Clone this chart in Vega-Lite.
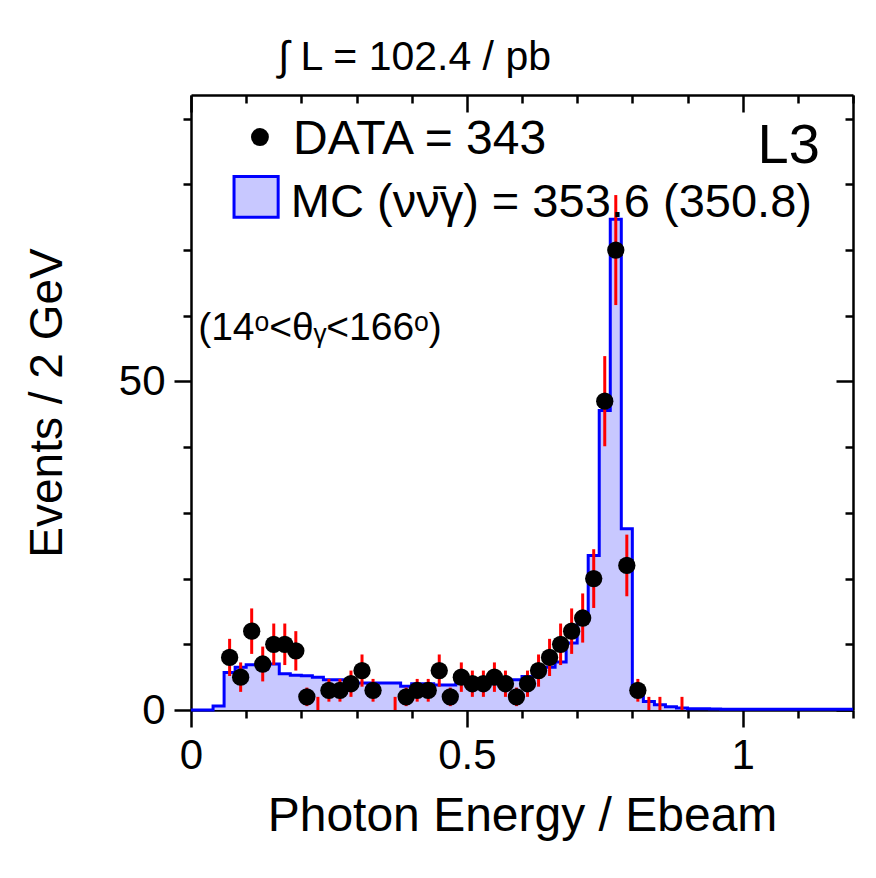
{
  "$schema": "https://vega.github.io/schema/vega-lite/v6.json",
  "width": 662,
  "height": 615,
  "autosize": "none",
  "padding": {"left": 191, "top": 95, "right": 23, "bottom": 168},
  "background": "white",
  "config": {"font": "Liberation Sans", "view": {"stroke": null}},
  "title": {"text": "∫ L = 102.4 / pb", "anchor": "start", "frame": "group", "dx": 87, "fontSize": 41, "fontWeight": "normal", "color": "black", "offset": 15, "font": "Liberation Sans"},
  "datasets": {
    "mc": [
      {"e": 0.00, "mc": 0}, {"e": 0.02, "mc": 0}, {"e": 0.04, "mc": 0.6}, {"e": 0.06, "mc": 5.7},
      {"e": 0.08, "mc": 6.5}, {"e": 0.10, "mc": 6.9}, {"e": 0.12, "mc": 6.4}, {"e": 0.14, "mc": 7.0},
      {"e": 0.16, "mc": 5.5}, {"e": 0.18, "mc": 5.3}, {"e": 0.20, "mc": 5.2}, {"e": 0.22, "mc": 5.0},
      {"e": 0.24, "mc": 4.6}, {"e": 0.26, "mc": 4.6}, {"e": 0.28, "mc": 3.7}, {"e": 0.30, "mc": 4.1},
      {"e": 0.32, "mc": 4.1}, {"e": 0.34, "mc": 4.1}, {"e": 0.36, "mc": 4.1}, {"e": 0.38, "mc": 3.6},
      {"e": 0.40, "mc": 4.0}, {"e": 0.42, "mc": 4.0}, {"e": 0.44, "mc": 3.8}, {"e": 0.46, "mc": 3.8},
      {"e": 0.48, "mc": 4.1}, {"e": 0.50, "mc": 4.1}, {"e": 0.52, "mc": 3.9}, {"e": 0.54, "mc": 4.0},
      {"e": 0.56, "mc": 4.3}, {"e": 0.58, "mc": 4.6}, {"e": 0.60, "mc": 5.1}, {"e": 0.62, "mc": 5.6},
      {"e": 0.64, "mc": 6.5}, {"e": 0.66, "mc": 7.3}, {"e": 0.68, "mc": 10.2}, {"e": 0.70, "mc": 14.3},
      {"e": 0.72, "mc": 23.5}, {"e": 0.74, "mc": 45.6}, {"e": 0.76, "mc": 74.7}, {"e": 0.78, "mc": 27.6},
      {"e": 0.80, "mc": 3.0}, {"e": 0.82, "mc": 1.3}, {"e": 0.84, "mc": 0.8}, {"e": 0.86, "mc": 0.5},
      {"e": 0.88, "mc": 0.3}, {"e": 0.90, "mc": 0.2}, {"e": 0.92, "mc": 0.2}, {"e": 0.94, "mc": 0.15},
      {"e": 0.96, "mc": 0.1}, {"e": 0.98, "mc": 0.1}, {"e": 1.00, "mc": 0.1}, {"e": 1.02, "mc": 0.1},
      {"e": 1.04, "mc": 0.1}, {"e": 1.06, "mc": 0.1}, {"e": 1.08, "mc": 0.1}, {"e": 1.10, "mc": 0.1},
      {"e": 1.12, "mc": 0.1}, {"e": 1.14, "mc": 0.1}, {"e": 1.16, "mc": 0.1}, {"e": 1.18, "mc": 0.1},
      {"e": 1.20, "mc": 0.1}
    ],
    "obs": [
      {"x": 0.07, "n": 8, "lo": 5.17, "hi": 10.83},
      {"x": 0.09, "n": 5, "lo": 2.76, "hi": 7.24},
      {"x": 0.11, "n": 12, "lo": 8.54, "hi": 15.46},
      {"x": 0.13, "n": 7, "lo": 4.35, "hi": 9.65},
      {"x": 0.15, "n": 10, "lo": 6.84, "hi": 13.16},
      {"x": 0.17, "n": 10, "lo": 6.84, "hi": 13.16},
      {"x": 0.19, "n": 9, "lo": 6.0, "hi": 12.0},
      {"x": 0.21, "n": 2, "lo": 0.59, "hi": 3.41},
      {"x": 0.23, "n": 1, "lo": 0.0, "hi": 2.0},
      {"x": 0.25, "n": 3, "lo": 1.27, "hi": 4.73},
      {"x": 0.27, "n": 3, "lo": 1.27, "hi": 4.73},
      {"x": 0.29, "n": 4, "lo": 2.0, "hi": 6.0},
      {"x": 0.31, "n": 6, "lo": 3.55, "hi": 8.45},
      {"x": 0.33, "n": 3, "lo": 1.27, "hi": 4.73},
      {"x": 0.37, "n": 1, "lo": 0.0, "hi": 2.0},
      {"x": 0.39, "n": 2, "lo": 0.59, "hi": 3.41},
      {"x": 0.41, "n": 3, "lo": 1.27, "hi": 4.73},
      {"x": 0.43, "n": 3, "lo": 1.27, "hi": 4.73},
      {"x": 0.45, "n": 6, "lo": 3.55, "hi": 8.45},
      {"x": 0.47, "n": 2, "lo": 0.59, "hi": 3.41},
      {"x": 0.49, "n": 5, "lo": 2.76, "hi": 7.24},
      {"x": 0.51, "n": 4, "lo": 2.0, "hi": 6.0},
      {"x": 0.53, "n": 4, "lo": 2.0, "hi": 6.0},
      {"x": 0.55, "n": 5, "lo": 2.76, "hi": 7.24},
      {"x": 0.57, "n": 4, "lo": 2.0, "hi": 6.0},
      {"x": 0.59, "n": 2, "lo": 0.59, "hi": 3.41},
      {"x": 0.61, "n": 4, "lo": 2.0, "hi": 6.0},
      {"x": 0.63, "n": 6, "lo": 3.55, "hi": 8.45},
      {"x": 0.65, "n": 8, "lo": 5.17, "hi": 10.83},
      {"x": 0.67, "n": 10, "lo": 6.84, "hi": 13.16},
      {"x": 0.69, "n": 12, "lo": 8.54, "hi": 15.46},
      {"x": 0.71, "n": 14, "lo": 10.26, "hi": 17.74},
      {"x": 0.73, "n": 20, "lo": 15.53, "hi": 24.47},
      {"x": 0.75, "n": 47, "lo": 40.14, "hi": 53.86},
      {"x": 0.77, "n": 70, "lo": 61.63, "hi": 78.37},
      {"x": 0.79, "n": 22, "lo": 17.31, "hi": 26.69},
      {"x": 0.81, "n": 3, "lo": 1.27, "hi": 4.73},
      {"x": 0.83, "n": 1, "lo": 0.0, "hi": 2.0},
      {"x": 0.85, "n": 1, "lo": 0.0, "hi": 2.0},
      {"x": 0.89, "n": 1, "lo": 0.0, "hi": 2.0}
    ]
  },
  "layer": [
    {
      "data": {"name": "mc"},
      "mark": {"type": "area", "interpolate": "step-after", "color": "#c8c8ff"},
      "encoding": {
        "x": {"field": "e", "type": "quantitative", "scale": {"domain": [0, 1.2], "nice": false, "zero": false},
          "axis": {"orient": "bottom", "values": [0, 0.1, 0.2, 0.3, 0.4, 0.5, 0.6, 0.7, 0.8, 0.9, 1, 1.1, 1.2], "format": "~g",
            "labelExpr": "(abs(datum.value*2-round(datum.value*2))<0.001) ? datum.label : ''",
            "tickSize": {"condition": {"test": "abs(datum.value*2-round(datum.value*2))<0.001", "value": 17}, "value": 8},
            "tickWidth": 2.5, "tickColor": "black", "domainColor": "black", "domainWidth": 2.5,
            "labelFontSize": 42, "labelColor": "black", "labelPadding": 8, "labelFlush": false, "labelOverlap": false, "grid": false,
            "title": "Photon Energy / Ebeam", "titleFontSize": 48, "titleFontWeight": "normal", "titleColor": "black", "titlePadding": 16}},
        "y": {"field": "mc", "type": "quantitative", "scale": {"domain": [0, 93.6], "nice": false},
          "axis": {"orient": "left", "values": [0, 10, 20, 30, 40, 50, 60, 70, 80, 90],
            "labelExpr": "(datum.value % 50 === 0) ? datum.label : ''",
            "tickSize": {"condition": {"test": "datum.value % 50 === 0", "value": 17}, "value": 8},
            "tickWidth": 2.5, "tickColor": "black", "domainColor": "black", "domainWidth": 2.5,
            "labelFontSize": 42, "labelColor": "black", "labelPadding": 9, "labelFlush": false, "labelOverlap": false, "grid": false,
            "title": "Events / 2 GeV", "titleFontSize": 46, "titleFontWeight": "normal", "titleColor": "black", "titlePadding": 47}}
      }
    },
    {
      "data": {"name": "mc"},
      "mark": {"type": "line", "interpolate": "step-after", "color": "#0000ff", "strokeWidth": 3},
      "encoding": {
        "x": {"field": "e", "type": "quantitative", "scale": {"domain": [0, 1.2], "nice": false, "zero": false},
          "axis": {"orient": "top", "values": [0, 0.1, 0.2, 0.3, 0.4, 0.5, 0.6, 0.7, 0.8, 0.9, 1, 1.1, 1.2], "labels": false,
            "tickSize": {"condition": {"test": "abs(datum.value*2-round(datum.value*2))<0.001", "value": -17}, "value": -8},
            "tickWidth": 2.5, "tickColor": "black", "domainColor": "black", "domainWidth": 2.5, "grid": false, "title": null}},
        "y": {"field": "mc", "type": "quantitative", "scale": {"domain": [0, 93.6], "nice": false},
          "axis": {"orient": "right", "values": [0, 10, 20, 30, 40, 50, 60, 70, 80, 90], "labels": false,
            "tickSize": {"condition": {"test": "datum.value % 50 === 0", "value": -17}, "value": -8},
            "tickWidth": 2.5, "tickColor": "black", "domainColor": "black", "domainWidth": 2.5, "grid": false, "title": null}}
      }
    },
    {
      "data": {"name": "obs"},
      "mark": {"type": "rule", "color": "#ff0000", "strokeWidth": 3},
      "encoding": {
        "x": {"field": "x", "type": "quantitative", "scale": {"domain": [0, 1.2], "nice": false, "zero": false}, "axis": null},
        "y": {"field": "lo", "type": "quantitative", "scale": {"domain": [0, 93.6], "nice": false}, "axis": null},
        "y2": {"field": "hi"}
      }
    },
    {
      "data": {"name": "obs"},
      "transform": [{"filter": "datum.n > 1"}],
      "mark": {"type": "circle", "color": "black", "opacity": 1, "size": 300},
      "encoding": {
        "x": {"field": "x", "type": "quantitative", "scale": {"domain": [0, 1.2], "nice": false, "zero": false}, "axis": null},
        "y": {"field": "n", "type": "quantitative", "scale": {"domain": [0, 93.6], "nice": false}, "axis": null}
      }
    },
    {
      "data": {"values": [{}]},
      "mark": {"type": "circle", "color": "black", "opacity": 1, "size": 320},
      "encoding": {
        "x": {"datum": 0.125, "type": "quantitative", "scale": {"domain": [0, 1.2], "nice": false, "zero": false}, "axis": null},
        "y": {"datum": 87.2, "type": "quantitative", "scale": {"domain": [0, 93.6], "nice": false}, "axis": null}
      }
    },
    {
      "data": {"values": [{}]},
      "mark": {"type": "text", "text": "DATA = 343", "align": "left", "baseline": "middle", "fontSize": 48, "color": "black", "font": "Liberation Sans"},
      "encoding": {
        "x": {"datum": 0.185, "type": "quantitative", "scale": {"domain": [0, 1.2], "nice": false, "zero": false}, "axis": null},
        "y": {"datum": 86.8, "type": "quantitative", "scale": {"domain": [0, 93.6], "nice": false}, "axis": null}
      }
    },
    {
      "data": {"values": [{}]},
      "mark": {"type": "rect", "fill": "#c8c8ff", "stroke": "#0000ff", "strokeWidth": 3},
      "encoding": {
        "x": {"datum": 0.078, "type": "quantitative", "scale": {"domain": [0, 1.2], "nice": false, "zero": false}, "axis": null},
        "x2": {"datum": 0.158},
        "y": {"datum": 81.2, "type": "quantitative", "scale": {"domain": [0, 93.6], "nice": false}, "axis": null},
        "y2": {"datum": 75.0}
      }
    },
    {
      "data": {"values": [{}]},
      "mark": {"type": "text", "text": "MC (νν̄γ) = 353.6 (350.8)", "align": "left", "baseline": "middle", "fontSize": 47, "color": "black", "font": "Liberation Sans"},
      "encoding": {
        "x": {"datum": 0.181, "type": "quantitative", "scale": {"domain": [0, 1.2], "nice": false, "zero": false}, "axis": null},
        "y": {"datum": 77.2, "type": "quantitative", "scale": {"domain": [0, 93.6], "nice": false}, "axis": null}
      }
    },
    {
      "data": {"values": [{}]},
      "mark": {"type": "text", "text": "L3", "align": "right", "baseline": "middle", "fontSize": 56, "color": "black", "font": "Liberation Sans"},
      "encoding": {
        "x": {"datum": 1.14, "type": "quantitative", "scale": {"domain": [0, 1.2], "nice": false, "zero": false}, "axis": null},
        "y": {"datum": 85.8, "type": "quantitative", "scale": {"domain": [0, 93.6], "nice": false}, "axis": null}
      }
    },
    {
      "data": {"values": [{}]},
      "mark": {"type": "text", "text": "(14ᵒ<θᵧ<166ᵒ)", "align": "left", "baseline": "middle", "fontSize": 39, "color": "black", "font": "Liberation Sans"},
      "encoding": {
        "x": {"datum": 0.013, "type": "quantitative", "scale": {"domain": [0, 1.2], "nice": false, "zero": false}, "axis": null},
        "y": {"datum": 58.1, "type": "quantitative", "scale": {"domain": [0, 93.6], "nice": false}, "axis": null}
      }
    }
  ],
  "resolve": {"axis": {"x": "independent", "y": "independent"}}
}
